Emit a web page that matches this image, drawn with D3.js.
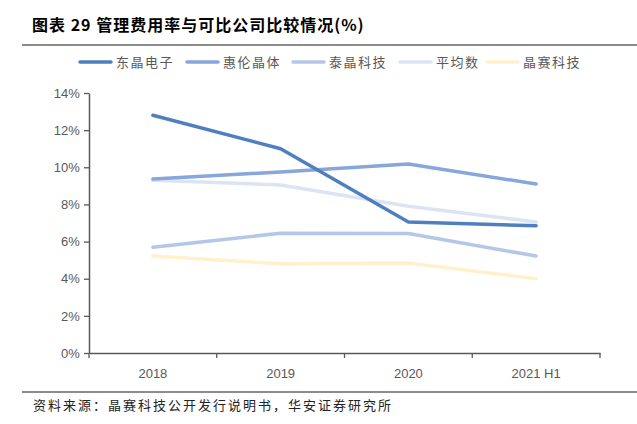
<!DOCTYPE html>
<html><head><meta charset="utf-8">
<script src="https://cdn.jsdelivr.net/npm/d3@7/dist/d3.min.js"></script>
<style>body{margin:0;background:#fff}svg{display:block}</style>
</head><body>
<svg id="c" width="637" height="424"></svg>
<script>
const categories = ["2018", "2019", "2020", "2021 H1"];
const seriesNames = ["东晶电子", "惠伦晶体", "泰晶科技", "平均数", "晶赛科技"];
const dongjing = [12.8, 11.0, 7.05, 6.85];
const huilun = [9.37, 9.75, 10.18, 9.1];
const taijing = [5.7, 6.45, 6.43, 5.22];
const average = [9.3, 9.05, 7.9, 7.05];
const jingsai = [5.22, 4.8, 4.85, 4.0];
const yTicks = [0, 2, 4, 6, 8, 10, 12, 14];
const colors = ["#4f7fbe", "#86a6dc", "#b4c7e8", "#dce4f4", "#fff1cc"];
const seriesValues = [dongjing, huilun, taijing, average, jingsai];

const svg = d3.select("#c");
const cjk = "'Noto Sans CJK SC', sans-serif";
const latin = "'Liberation Sans', Arial, sans-serif";

svg.append("text").attr("x", 32).attr("y", 31).attr("font-family", cjk)
  .attr("font-weight", "bold").attr("font-size", 16).attr("fill", "#000")
  .attr("letter-spacing", 1).attr("xml:space", "preserve")
  .text("图表 29 管理费用率与可比公司比较情况(%)");
svg.append("line").attr("x1", 22).attr("x2", 637).attr("y1", 45).attr("y2", 45)
  .attr("stroke", "#8c8c8c").attr("stroke-width", 2);
svg.append("line").attr("x1", 22).attr("x2", 637).attr("y1", 392).attr("y2", 392)
  .attr("stroke", "#8c8c8c").attr("stroke-width", 2);
svg.append("text").attr("x", 33).attr("y", 410).attr("font-family", cjk)
  .attr("font-size", 13).attr("letter-spacing", 2).attr("fill", "#222")
  .text("资料来源：晶赛科技公开发行说明书，华安证券研究所");

const x = d3.scaleBand().domain(categories).range([89, 600]);
const y = d3.scaleLinear().domain([0, 14]).range([353, 93]);

const yAxis = svg.append("g").attr("transform", "translate(89,0)")
  .call(d3.axisLeft(y).tickValues(yTicks).tickFormat(d => d + "%").tickSize(5).tickSizeOuter(0));
const xAxis = svg.append("g").attr("transform", "translate(0,353)")
  .call(d3.axisBottom(x).tickSize(0));
const edges = categories.map(c => x(c)).concat([x.range()[1]]);
svg.append("g").selectAll("line").data(edges).join("line")
  .attr("x1", d => d).attr("x2", d => d).attr("y1", 353).attr("y2", 358)
  .attr("stroke", "#595959").attr("stroke-width", 1.3);

[yAxis, xAxis].forEach(a => {
  a.select(".domain").attr("stroke", "#595959").attr("stroke-width", 1.5);
  a.selectAll(".tick line").attr("stroke", "#595959").attr("stroke-width", 1.3);
  a.selectAll("text").attr("font-family", latin).attr("font-size", 13).attr("fill", "#595959");
});
xAxis.selectAll("text").attr("dy", "1.7em");
yAxis.selectAll("text").attr("dx", "-0.1em");

const line = d3.line().x((d, i) => x(categories[i]) + x.bandwidth() / 2).y(d => y(d));
const order = [4, 3, 2, 1, 0];
svg.append("g").selectAll("path").data(order).join("path")
  .attr("d", i => line(seriesValues[i])).attr("fill", "none")
  .attr("stroke", i => colors[i]).attr("stroke-width", 3.5)
  .attr("stroke-linecap", "round").attr("stroke-linejoin", "round");

const legX = [80, 187, 293, 400, 487];
const lg = svg.append("g").selectAll("g").data(seriesNames).join("g")
  .attr("transform", (d, i) => `translate(${legX[i]},62)`);
lg.append("line").attr("x1", 0).attr("x2", 31).attr("y1", 0).attr("y2", 0)
  .attr("stroke", (d, i) => colors[i]).attr("stroke-width", 3.5).attr("stroke-linecap", "round");
lg.append("text").attr("x", 36).attr("y", 5).attr("font-family", cjk).attr("font-size", 13)
  .attr("letter-spacing", 1.5).attr("fill", "#595959").text(d => d);
</script>
</body></html>
